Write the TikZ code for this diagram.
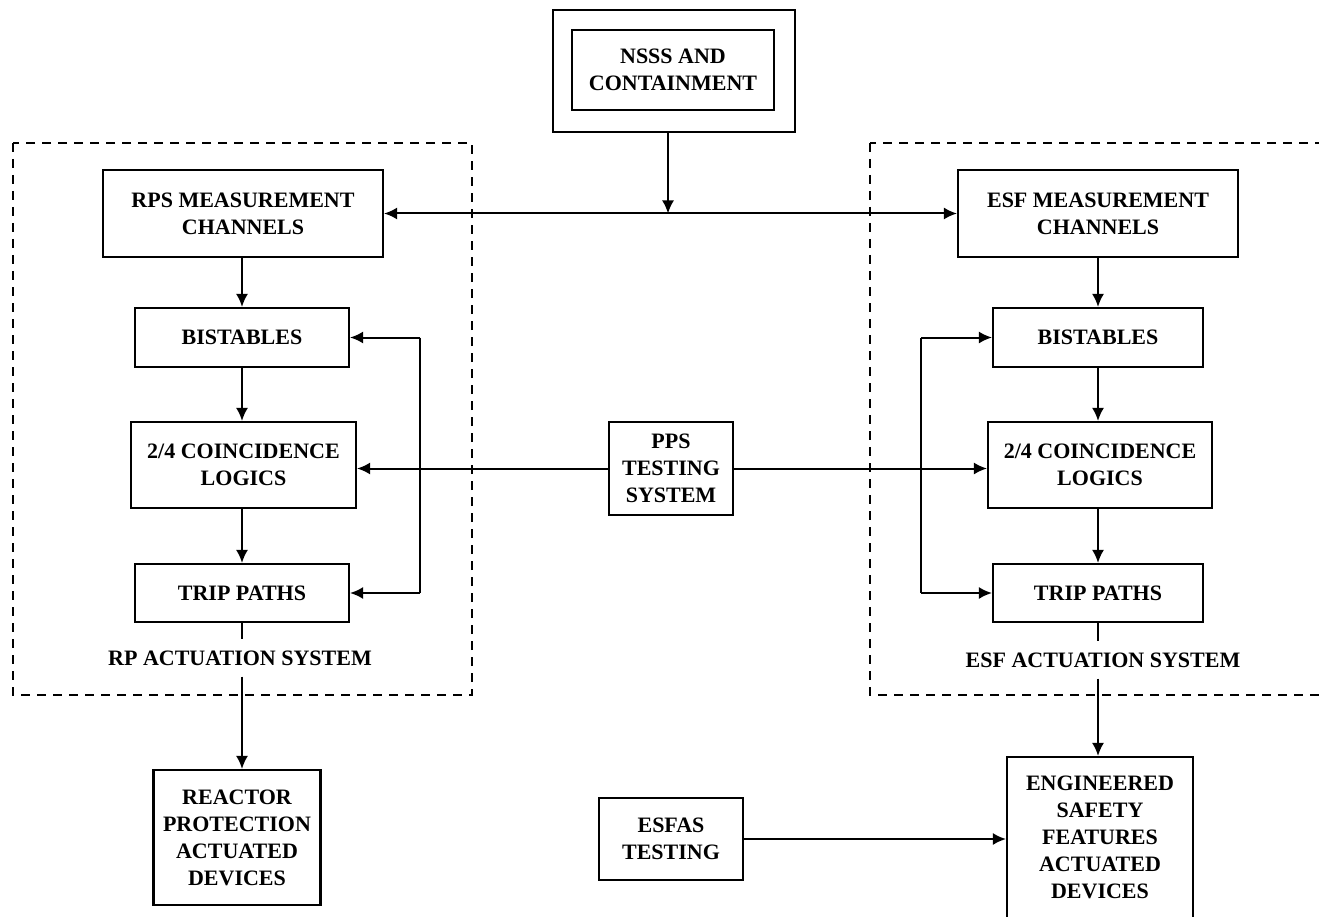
\documentclass[tikz,border=0pt]{standalone}
\usepackage{fontspec}
\setmainfont{Liberation Serif}
\usetikzlibrary{arrows.meta}
\begin{document}
\begin{tikzpicture}[x=1pt,y=-1pt,
  txt/.style={font=\fontsize{22}{27}\selectfont\bfseries},
  box/.style={txt,draw,line width=2.1pt,inner sep=0pt,align=center},
  lbl/.style={txt,inner xsep=0pt,inner ysep=11pt},
  conn/.style={line width=2pt},
  tip/.style={},
  arr/.style={conn,-{Latex[length=13pt,width=12pt]}},
  darr/.style={conn,{Latex[length=13pt,width=12pt]}-{Latex[length=13pt,width=12pt]}},
  dbox/.style={line width=2pt,dash pattern=on 9pt off 7pt}]
\useasboundingbox (0,0) rectangle (1319,917);
\clip (0,0) rectangle (1319,917);

% dashed system frames
\draw[dbox] (13,143) rectangle (472,695);
\draw[dbox] (870,143) rectangle (1345,695);

% top source
\node[box,minimum width=242pt,minimum height=122pt] (nsssout) at (674,71) {};
\node[box,minimum width=202pt,minimum height=80pt] (nsss) at (673,70) {NSSS AND\\CONTAINMENT};

% left column
\node[box,minimum width=280pt,minimum height=87pt] (rpsm) at (243,213.5) {RPS MEASUREMENT\\CHANNELS};
\node[box,minimum width=214pt,minimum height=59pt] (lbist) at (242,337.5) {BISTABLES};
\node[box,minimum width=225pt,minimum height=86pt] (lcoin) at (243.5,465) {2/4 COINCIDENCE\\LOGICS};
\node[box,minimum width=214pt,minimum height=58pt] (ltrip) at (242,593) {TRIP PATHS};
\node[lbl] (rpact) at (240,658) {RP ACTUATION SYSTEM};
\node[box,minimum width=167pt,minimum height=135pt] (rpad) at (237,837.5) {REACTOR\\PROTECTION\\ACTUATED\\DEVICES};

% centre
\node[box,minimum width=124pt,minimum height=93pt] (pps) at (671,468.5) {PPS\\TESTING\\SYSTEM};
\node[box,minimum width=144pt,minimum height=82pt] (esfas) at (671,839) {ESFAS\\TESTING};

% right column
\node[box,minimum width=280pt,minimum height=87pt] (esfm) at (1098,213.5) {ESF MEASUREMENT\\CHANNELS};
\node[box,minimum width=210pt,minimum height=59pt] (rbist) at (1098,337.5) {BISTABLES};
\node[box,minimum width=224pt,minimum height=86pt] (rcoin) at (1100,465) {2/4 COINCIDENCE\\LOGICS};
\node[box,minimum width=210pt,minimum height=58pt] (rtrip) at (1098,593) {TRIP PATHS};
\node[lbl] (esfact) at (1103,660) {ESF ACTUATION SYSTEM};
\node[box,minimum width=186pt,minimum height=161pt] (esfad) at (1100,837.5) {ENGINEERED\\SAFETY\\FEATURES\\ACTUATED\\DEVICES};

% junction coordinates
\coordinate (j) at (668,213.5);
\coordinate (lfbT) at (420,337.5);
\coordinate (lfbB) at (420,593);
\coordinate (rfbT) at (921,337.5);
\coordinate (rfbB) at (921,593);

% NSSS to measurement channels
\draw[arr] (j |- nsssout.south) -- (j);
\draw[darr] (rpsm.east) -- (esfm.west);

% left chain
\draw[arr] (lbist.north |- rpsm.south) -- (lbist.north);
\draw[arr] (lbist.south) -- (lbist.south |- lcoin.north);
\draw[arr] (lbist.south |- lcoin.south) -- (ltrip.north);
\draw[conn] (ltrip.south) -- (ltrip.south |- rpact.north);
\draw[arr] (ltrip.south |- rpact.south) -- (ltrip.south |- rpad.north);

% left feedback
\draw[conn] (lfbT) -- (lfbB);
\draw[arr] (lfbT) -- (lbist.east);
\draw[arr] (lfbB) -- (ltrip.east);

% right chain
\draw[arr] (rbist.north |- esfm.south) -- (rbist.north);
\draw[arr] (rbist.south) -- (rbist.south |- rcoin.north);
\draw[arr] (rbist.south |- rcoin.south) -- (rtrip.north);
\draw[conn] (rtrip.south) -- (rtrip.south |- esfact.north);
\draw[arr] (rtrip.south |- esfact.south) -- (rtrip.south |- esfad.north);

% right feedback
\draw[conn] (rfbT) -- (rfbB);
\draw[arr] (rfbT) -- (rbist.west);
\draw[arr] (rfbB) -- (rtrip.west);

% PPS testing
\draw[arr] (pps.west) -- (lcoin.east |- pps.west);
\draw[arr] (pps.east) -- (rcoin.west |- pps.east);

% ESFAS testing
\draw[arr] (esfas.east) -- (esfad.west |- esfas.east);
\end{tikzpicture}
\end{document}
